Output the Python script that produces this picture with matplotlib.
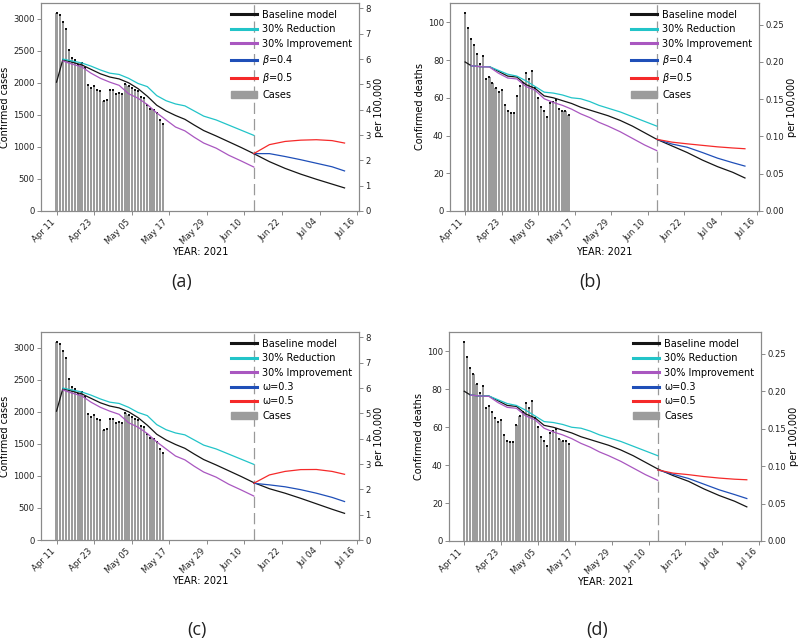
import matplotlib
matplotlib.use('Agg')
import matplotlib.pyplot as plt
import matplotlib.dates as mdates
import pandas as pd
from matplotlib.lines import Line2D
from matplotlib.patches import Patch

POP = 39.5e6

# ---------------- observed data ----------------
obs_dates = pd.date_range('2021-04-11', '2021-05-15')
cases = [3090, 3060, 2950, 2840, 2510, 2380, 2360, 2285, 2315, 2225, 1960, 1925, 1945, 1893,
         1867, 1710, 1730, 1893, 1893, 1830, 1840, 1830, 1985, 1950, 1925, 1893, 1872, 1778,
         1768, 1659, 1586, 1570, 1534, 1425, 1357]
deaths = [105, 97, 91, 88, 83, 78, 82, 70, 71, 68, 65, 63, 64, 56, 53, 52, 52, 61, 66, 68,
          73, 70, 74, 65, 60, 55, 53, 50, 57, 58, 59, 54, 53, 53, 51]

# ---------------- model curves (cases) ----------------
fit_dates = ['2021-04-11', '2021-04-13', '2021-04-16', '2021-04-19', '2021-04-22', '2021-04-25',
             '2021-04-28', '2021-05-01', '2021-05-04', '2021-05-07', '2021-05-10', '2021-05-13',
             '2021-05-16', '2021-05-19', '2021-05-22', '2021-05-25', '2021-05-28', '2021-06-01',
             '2021-06-05', '2021-06-09', '2021-06-13']
case_base = [2010, 2360, 2320, 2280, 2210, 2140, 2090, 2060, 2000, 1910, 1790, 1650, 1560, 1490,
             1430, 1340, 1255, 1170, 1080, 990, 895]
case_red = [None, 2370, 2340, 2310, 2260, 2200, 2150, 2130, 2070, 1990, 1940, 1800, 1720, 1670,
            1640, 1560, 1480, 1420, 1340, 1260, 1180]
case_imp = [None, 2340, 2290, 2250, 2150, 2070, 2010, 1960, 1830, 1760, 1660, 1530, 1420, 1310,
            1250, 1150, 1060, 980, 870, 780, 686]

death_base = [79, 77, 76.5, 76.5, 74, 71.5, 71, 67, 65, 61, 60, 58.5, 57, 55, 53.5, 52, 50.5,
              48, 45, 41.5, 38]
death_red = [None, 77, 76.5, 76.5, 74.5, 72.5, 71.5, 69, 66, 63, 62.5, 61.5, 60, 59.5, 58, 56,
             54.5, 52.5, 50, 47.5, 45]
death_imp = [None, 77, 76.5, 76.3, 73, 70.5, 70, 66, 64, 59.5, 57.5, 56, 54, 51.5, 49.5, 47,
             45, 42, 38.5, 35, 32]

# ---------------- projections ----------------
proj_dates = ['2021-06-13', '2021-06-18', '2021-06-23', '2021-06-28', '2021-07-03',
              '2021-07-08', '2021-07-12']
case_base_a = [895, 770, 665, 575, 495, 420, 360]
case_hi_a = [895, 1035, 1085, 1105, 1112, 1098, 1060]   # beta=0.5
case_lo_a = [895, 895, 850, 800, 745, 690, 625]        # beta=0.4
case_base_c = [885, 800, 730, 650, 565, 480, 416]
case_hi_c = [885, 1015, 1070, 1098, 1100, 1070, 1025]   # omega=0.5
case_lo_c = [885, 860, 830, 785, 730, 665, 600]         # omega=0.3

death_base_b = [38, 34.5, 31, 27, 23.5, 20.5, 17.5]
death_hi_b = [38, 36.5, 35.6, 34.8, 34.0, 33.4, 33.0]
death_lo_b = [38, 35.5, 33.8, 31, 28, 25.6, 23.8]
death_base_d = [37.5, 34.5, 31.5, 27.5, 24, 21, 18]
death_hi_d = [37.5, 35.8, 35.0, 34.0, 33.2, 32.6, 32.3]
death_lo_d = [37.5, 35.2, 33, 30, 27, 24.5, 22.4]

cutoff = '2021-06-13'
tick_dates = ['2021-04-11', '2021-04-23', '2021-05-05', '2021-05-17', '2021-05-29',
              '2021-06-10', '2021-06-22', '2021-07-04', '2021-07-16']

C_BASE = '#151515'
C_RED = '#22c4c8'
C_IMP = '#a957c0'
C_LO = '#1f4fb8'
C_HI = '#f52a2a'
C_BAR = '#9c9c9c'
SPINE = '#8a8a8a'
FS_TICK = 6.1
FS_LAB = 7.0

fig = plt.figure(figsize=(8.0, 6.42), dpi=100)


def clean(dates, vals):
    d = [pd.Timestamp(x) for x, v in zip(dates, vals) if v is not None]
    v = [v for v in vals if v is not None]
    return d, v


def panel(rect, obs, base, red, imp, pbase, phi, plo, ylabel, lo_lab, hi_lab, right_ticks,
          right_fmt):
    ax = fig.add_axes(rect)
    ax.bar(obs_dates, obs, width=0.7, color=C_BAR, zorder=1)
    ax.scatter(obs_dates, obs, s=2.5, color='#111111', marker='s', zorder=3, linewidths=0)
    d, v = clean(fit_dates, base)
    pd_, pv = clean(proj_dates, pbase)
    ax.plot(d + pd_[1:], v + pv[1:], color=C_BASE, lw=0.9, zorder=4)
    d, v = clean(fit_dates, red)
    ax.plot(d, v, color=C_RED, lw=0.9, zorder=4)
    d, v = clean(fit_dates, imp)
    ax.plot(d, v, color=C_IMP, lw=0.9, zorder=4)
    d, v = clean(proj_dates, plo)
    ax.plot(d, v, color=C_LO, lw=0.9, zorder=4)
    d, v = clean(proj_dates, phi)
    ax.plot(d, v, color=C_HI, lw=0.9, zorder=4)
    ax.axvline(pd.Timestamp(cutoff), color='#999999', lw=0.9, ls=(0, (9, 4)), zorder=2)
    ax.set_ylim(bottom=0)
    ax.set_xticks([pd.Timestamp(t) for t in tick_dates])
    ax.xaxis.set_major_formatter(mdates.DateFormatter('%b %d'))
    for lbl in ax.get_xticklabels():
        lbl.set_rotation(45)
        lbl.set_ha('right')
        lbl.set_rotation_mode('default')
    ax.set_ylabel(ylabel, fontsize=FS_LAB, labelpad=2)
    ax.set_xlabel('YEAR: 2021', fontsize=FS_LAB, labelpad=1)
    ax.tick_params(labelsize=FS_TICK, length=3, width=0.7, color=SPINE, pad=1.5,
                   labelcolor='#222222')
    for s in ax.spines.values():
        s.set_color(SPINE)
        s.set_linewidth(0.8)
    handles = [Line2D([], [], color=C_BASE, lw=2.2), Line2D([], [], color=C_RED, lw=2.2),
               Line2D([], [], color=C_IMP, lw=2.2), Line2D([], [], color=C_LO, lw=2.2),
               Line2D([], [], color=C_HI, lw=2.2), Patch(color=C_BAR)]
    labels = ['Baseline model', '30% Reduction', '30% Improvement', lo_lab, hi_lab, 'Cases']
    ax.legend(handles, labels, loc='upper right', frameon=False, fontsize=FS_LAB,
              handlelength=2.6, handletextpad=0.55, labelspacing=0.45, borderaxespad=0.3)
    ax2 = ax.twinx()
    lo, hi = ax.get_ylim()
    ax2.set_ylim(lo / POP * 1e5, hi / POP * 1e5)
    ax2.set_yticks(right_ticks)
    ax2.yaxis.set_major_formatter(plt.FormatStrFormatter(right_fmt))
    ax2.set_ylabel('per 100,000', fontsize=FS_LAB, labelpad=2)
    ax2.tick_params(labelsize=FS_TICK, length=3, width=0.7, color=SPINE, pad=1.5,
                    labelcolor='#222222')
    for s in ax2.spines.values():
        s.set_color(SPINE)
        s.set_linewidth(0.8)
    return ax


case_rt = [0, 1, 2, 3, 4, 5, 6, 7, 8]
death_rt = [0.0, 0.05, 0.10, 0.15, 0.20, 0.25]

W, H = 800.0, 642.0


def rect(l, r, t, b):
    return [l / W, 1 - b / H, (r - l) / W, (b - t) / H]


panel(rect(41, 359, 3, 211), cases, case_base, case_red, case_imp, case_base_a, case_hi_a,
      case_lo_a, 'Confirmed cases', r'$\beta$=0.4', r'$\beta$=0.5', case_rt, '%d')
panel(rect(450, 759, 3, 211), deaths, death_base, death_red, death_imp, death_base_b,
      death_hi_b, death_lo_b, 'Confirmed deaths', r'$\beta$=0.4', r'$\beta$=0.5', death_rt,
      '%.2f')
panel(rect(41, 359, 332, 540), cases, case_base, case_red, case_imp, case_base_c, case_hi_c,
      case_lo_c, 'Confirmed cases', 'ω=0.3', 'ω=0.5', case_rt, '%d')
panel(rect(449, 761, 332, 541), deaths, death_base, death_red, death_imp, death_base_d,
      death_hi_d, death_lo_d, 'Confirmed deaths', 'ω=0.3', 'ω=0.5', death_rt, '%.2f')

cap = dict(fontsize=13, family=['Open Sans', 'DejaVu Sans'], ha='center', va='center',
           color='#222222')
fig.text(182 / W, 1 - 282 / H, '(a)', **cap)
fig.text(590 / W, 1 - 282 / H, '(b)', **cap)
fig.text(197 / W, 1 - 630 / H, '(c)', **cap)
fig.text(597 / W, 1 - 630 / H, '(d)', **cap)

fig.savefig('out.png', dpi=100)
